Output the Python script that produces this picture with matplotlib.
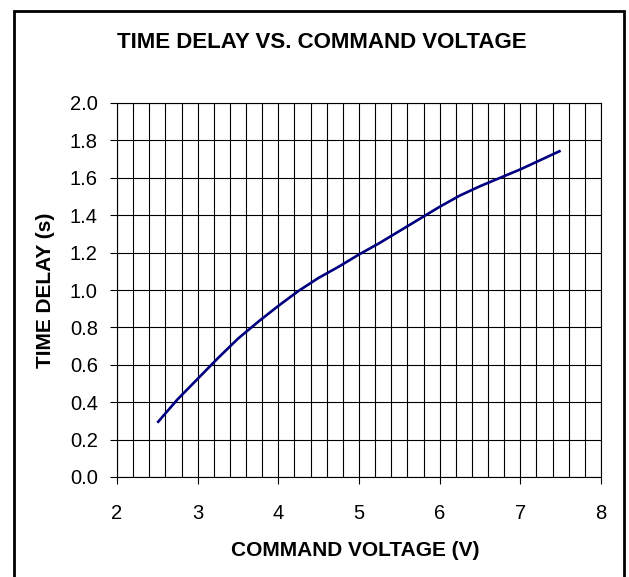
import matplotlib
matplotlib.use("Agg")
import matplotlib.pyplot as plt
from matplotlib.patches import Rectangle
from matplotlib.ticker import MultipleLocator

voltage = [2.5, 2.75, 3.0, 3.25, 3.5, 3.75, 4.0, 4.25, 4.5, 4.75, 5.0, 5.25, 5.5,
           5.75, 6.0, 6.25, 6.5, 6.75, 7.0, 7.25, 7.5]
delay = [0.29, 0.415, 0.525, 0.635, 0.74, 0.83, 0.915, 0.995, 1.065, 1.125, 1.19,
         1.25, 1.315, 1.38, 1.445, 1.505, 1.555, 1.60, 1.645, 1.695, 1.745]
x_ticks = [2, 3, 4, 5, 6, 7, 8]
y_ticks = [0.0, 0.2, 0.4, 0.6, 0.8, 1.0, 1.2, 1.4, 1.6, 1.8, 2.0]

plt.rcParams['font.family'] = ['Liberation Sans', 'DejaVu Sans']

fig = plt.figure(figsize=(6.29, 5.77), dpi=100)
ax = fig.add_axes([117/629, 100/577, (601-117)/629, (477-103)/577])

ax.plot(voltage, delay, color='#000080', lw=1.9, solid_capstyle='butt')

ax.set_xlim(2, 8)
ax.set_ylim(0, 2.0)
ax.set_xticks(x_ticks)
ax.set_xticklabels([str(v) for v in x_ticks])
ax.set_yticks(y_ticks)
ax.set_yticklabels([f"{v:.1f}" for v in y_ticks])
ax.xaxis.set_minor_locator(MultipleLocator(0.2))
ax.grid(which='major', axis='both', color='black', lw=0.8)
ax.grid(which='minor', axis='x', color='black', lw=0.8)
ax.tick_params(axis='x', which='minor', length=0)
ax.tick_params(axis='both', which='major', direction='out', length=5.3, width=0.8,
               labelsize=14.5, color='black')
ax.tick_params(axis='x', which='major', pad=14)
ax.tick_params(axis='y', which='major', pad=8.5)
for s in ax.spines.values():
    s.set_color('black')
    s.set_linewidth(0.8)
ax.set_axisbelow(True)

ax.set_xlabel('COMMAND VOLTAGE (V)', fontsize=15, fontweight='bold')
ax.set_ylabel('TIME DELAY (s)', fontsize=15, fontweight='bold')
ax.xaxis.set_label_coords(0.5 - 4/484, (477-550)/374)
ax.xaxis.label.set_va('center')
ax.yaxis.set_label_coords((45-117)/484, 0.5)
ax.yaxis.label.set_va('center')

fig.text(322/629, (577-42)/577, 'TIME DELAY VS. COMMAND VOLTAGE', fontsize=16,
         fontweight='bold', ha='center', va='center')

fig.patches.append(Rectangle((14/629, -0.02), (624-14)/629, (577-11)/577 + 0.02,
                             transform=fig.transFigure, fill=False, ec='black', lw=2.0))

fig.savefig('out.png', dpi=100)
